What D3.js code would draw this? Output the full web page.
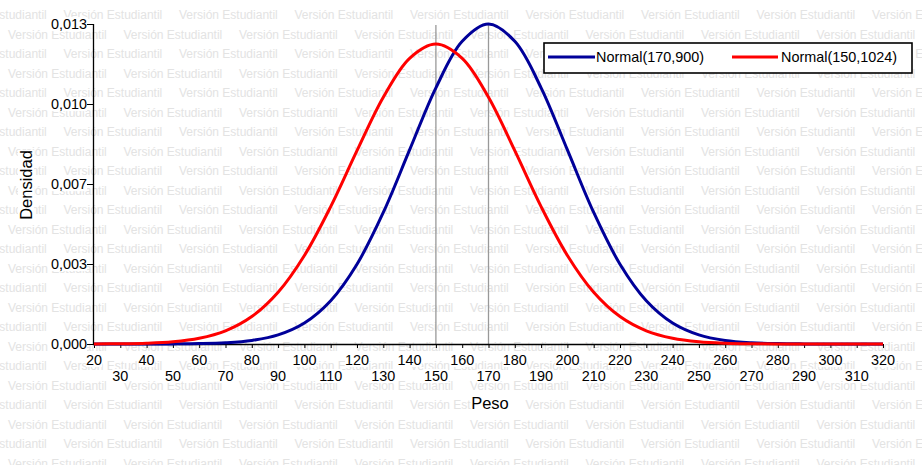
<!DOCTYPE html>
<html>
<head>
<meta charset="utf-8">
<script src="https://cdn.jsdelivr.net/npm/d3@7"></script>
<style>
  html, body { margin: 0; padding: 0; background: #fff; }
  svg { display: block; }
  text { font-family: "Liberation Sans", Arial, sans-serif; }
</style>
</head>
<body>
<svg id="chart" width="922" height="465"></svg>
<script>
// ---- data ----
const pesoValues = [20,30,40,50,60,70,80,90,100,110,120,130,140,150,160,170,180,190,200,210,220,230,240,250,260,270,280,290,300,310,320];
const normal170_900 = [0.00000005,0.00000025,0.0000011,0.0000045,0.0000160,0.0000514,0.0001477,0.000380,0.000874,0.001800,0.003316,0.005467,0.008066,0.010648,0.012579,0.013298,0.012579,0.010648,0.008066,0.005467,0.003316,0.001800,0.000874,0.000380,0.0001477,0.0000514,0.0000160,0.0000045,0.0000011,0.00000025,0.00000005];
const normal150_1024 = [0.0000033,0.0000110,0.0000339,0.0000945,0.000239,0.000548,0.001140,0.002150,0.003678,0.005708,0.008034,0.010255,0.011873,0.012467,0.011873,0.010255,0.008034,0.005708,0.003678,0.002150,0.001140,0.000548,0.000239,0.0000945,0.0000339,0.0000110,0.0000033,0.0000009,0.0000002,0.00000005,0.00000001];
const seriesNames = ["Normal(170,900)", "Normal(150,1024)"];
const seriesColors = ["#000099", "#ff0000"];
const referenceLines = [150, 170];
const xTickValues = [20,30,40,50,60,70,80,90,100,110,120,130,140,150,160,170,180,190,200,210,220,230,240,250,260,270,280,290,300,310,320];
const yTickValues = [0, 0.003325, 0.00665, 0.009975, 0.0133];
const yTickLabels = ["0,000", "0,003", "0,007", "0,010", "0,013"];
const watermarkText = "Versión Estudiantil";

// ---- layout ----
const svg = d3.select("#chart");
const W = 922, H = 465;
const x = d3.scaleLinear().domain([20, 320]).range([94, 883]);
const y = d3.scaleLinear().domain([0, 0.0133]).range([344, 24]);

// watermark
const wm = svg.append("g").attr("fill", "#e3e3e3").attr("font-size", "12px");
const period = 115.5;
for (let i = 0; i < 25; i++) {
  const by = 19 + 19.52 * i;
  const off = (i % 2 === 0) ? -52 : 8;
  for (let k = 0; k < 10; k++) {
    wm.append("text").attr("x", off + k * period).attr("y", by).text(watermarkText);
  }
}

function whiteBox(sel) {
  sel.each(function() {
    const bb = this.getBBox();
    const tr = this.getAttribute("transform");
    const r = d3.select(this.parentNode).insert("rect", () => this)
      .attr("x", bb.x).attr("y", bb.y + 1).attr("width", bb.width).attr("height", bb.height - 2)
      .attr("fill", "#fff");
    if (tr) r.attr("transform", tr);
  });
}

// reference lines
svg.append("g").selectAll("line").data(referenceLines).join("line")
  .attr("x1", d => x(d)).attr("x2", d => x(d))
  .attr("y1", 25).attr("y2", 344)
  .attr("stroke", "#999").attr("stroke-width", 1.3);

// axes
const xAxis = d3.axisBottom(x).tickValues(xTickValues).tickSize(4).tickFormat("");
const gx = svg.append("g").attr("transform", "translate(0,344)").call(xAxis);
gx.select(".domain").attr("d", `M${x(20)-1},0.5H${x(320)}`).attr("stroke", "#000").attr("stroke-width", 1.3);
gx.selectAll(".tick line").attr("stroke", "#000");

const yAxis = d3.axisLeft(y).tickValues(yTickValues).tickSize(6).tickFormat((d, i) => yTickLabels[i]);
const gy = svg.append("g").attr("transform", "translate(93,0)").call(yAxis);
gy.select(".domain").attr("d", "M0.5,24V344").attr("stroke", "#000").attr("stroke-width", 1.3);
gy.selectAll(".tick line").attr("stroke", "#000");
gy.selectAll(".tick text").attr("font-size", "14.4px").attr("fill", "#000").attr("x", -6)
  .attr("font-family", '"Liberation Sans", Arial, sans-serif');
whiteBox(gy.selectAll(".tick text"));

// x tick labels (staggered)
const xl = svg.append("g").attr("font-size", "14.4px").attr("text-anchor", "middle").attr("fill", "#000");
xl.selectAll("text").data(xTickValues).join("text")
  .attr("x", d => x(d))
  .attr("y", (d, i) => i % 2 === 0 ? 365 : 381)
  .text(d => d);
whiteBox(xl.selectAll("text"));

// axis titles
const titles = svg.append("g").attr("font-size", "16.5px").attr("fill", "#000").attr("text-anchor", "middle");
titles.append("text").attr("x", 490).attr("y", 409).text("Peso");
titles.append("text").attr("transform", "translate(32,185) rotate(-90)").text("Densidad");
whiteBox(titles.selectAll("text"));

// curves
const line = d3.line().x((d, i) => x(pesoValues[i])).y(d => y(d)).curve(d3.curveCatmullRom.alpha(0.5));
[normal170_900, normal150_1024].forEach((s, k) => {
  svg.append("path").datum(s).attr("d", line)
    .attr("fill", "none").attr("stroke", seriesColors[k]).attr("stroke-width", 3)
    .attr("stroke-linejoin", "round");
});

// legend
const lg = svg.append("g");
lg.append("rect").attr("x", 544).attr("y", 43).attr("width", 368).attr("height", 30)
  .attr("fill", "#fff").attr("stroke", "#000").attr("stroke-width", 1.6);
const legendItems = [{x0: 548, x1: 595, tx: 596}, {x0: 732, x1: 778, tx: 781}];
legendItems.forEach((it, k) => {
  lg.append("line").attr("x1", it.x0).attr("x2", it.x1).attr("y1", 57).attr("y2", 57)
    .attr("stroke", seriesColors[k]).attr("stroke-width", 3);
  lg.append("text").attr("x", it.tx).attr("y", 62).attr("font-size", "14.4px").attr("fill", "#000")
    .text(seriesNames[k]);
});
</script>
</body>
</html>
